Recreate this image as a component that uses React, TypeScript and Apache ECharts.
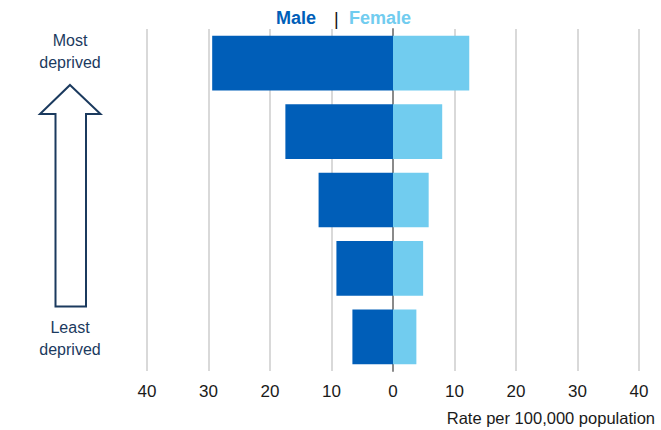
import React, { useEffect, useRef } from "react";
import * as echarts from "echarts";

// Deprivation quintiles, most deprived first (top of the chart)
const quintiles = ["Q1", "Q2", "Q3", "Q4", "Q5"];
// Rate per 100,000 population
const maleRates = [29.4, 17.5, 12.1, 9.2, 6.6];
const femaleRates = [12.4, 8.0, 5.8, 4.9, 3.8];
const axisTicks = [-40, -30, -20, -10, 0, 10, 20, 30, 40];

const MALE = "#005EB8";
const FEMALE = "#71CCEF";
const NAVY = "#1b3a5e";
const FONT = "Liberation Sans";

export default function App() {
  const ref = useRef<HTMLDivElement>(null);

  useEffect(() => {
    if (!ref.current) return;
    const chart = echarts.init(ref.current, undefined, { renderer: "svg" });
    chart.setOption({
      animation: false,
      backgroundColor: "#ffffff",
      textStyle: { fontFamily: FONT },
      grid: { left: 147, right: 22, top: 29, bottom: 59 },
      xAxis: {
        type: "value",
        min: axisTicks[0],
        max: axisTicks[axisTicks.length - 1],
        interval: 10,
        axisLine: { show: false },
        axisTick: { show: false },
        axisLabel: {
          color: "#1a1a1a",
          fontSize: 17,
          fontFamily: FONT,
          margin: 12,
          formatter: (v: number) => String(Math.abs(v)),
        },
        splitLine: { show: true, lineStyle: { color: "#d9d9d9", width: 2 } },
      },
      yAxis: {
        type: "category",
        data: quintiles,
        inverse: true,
        axisLine: { show: true, onZero: true, lineStyle: { color: "#8a8a8a", width: 2 } },
        axisTick: { show: false },
        axisLabel: { show: false },
        splitLine: { show: false },
      },
      series: [
        {
          name: "Male",
          type: "bar",
          stack: "rate",
          barWidth: "80%",
          data: maleRates.map((v) => -v),
          itemStyle: { color: MALE },
        },
        {
          name: "Female",
          type: "bar",
          stack: "rate",
          barWidth: "80%",
          data: femaleRates,
          itemStyle: { color: FEMALE },
        },
      ],
      graphic: [
        {
          type: "text",
          x: 276,
          y: 18,
          style: {
            text: "Male",
            fill: MALE,
            fontFamily: FONT,
            fontSize: 18,
            fontWeight: "bold",
            verticalAlign: "middle",
          },
        },
        {
          type: "text",
          x: 334,
          y: 19,
          style: {
            text: "|",
            fill: "#111111",
            fontFamily: FONT,
            fontSize: 18,
            verticalAlign: "middle",
          },
        },
        {
          type: "text",
          x: 349,
          y: 18,
          style: {
            text: "Female",
            fill: FEMALE,
            fontFamily: FONT,
            fontSize: 18,
            fontWeight: "bold",
            verticalAlign: "middle",
          },
        },
        {
          type: "text",
          x: 70,
          y: 51,
          style: {
            text: "Most\ndeprived",
            fill: NAVY,
            fontFamily: FONT,
            fontSize: 16,
            align: "center",
            verticalAlign: "middle",
            lineHeight: 22,
          },
        },
        {
          type: "polygon",
          shape: {
            points: [
              [70, 85],
              [100.5, 114],
              [86, 114],
              [86, 306.5],
              [55.5, 306.5],
              [55.5, 114],
              [40, 114],
            ],
          },
          style: { fill: "#ffffff", stroke: NAVY, lineWidth: 2 },
        },
        {
          type: "text",
          x: 70,
          y: 338.5,
          style: {
            text: "Least\ndeprived",
            fill: NAVY,
            fontFamily: FONT,
            fontSize: 16,
            align: "center",
            verticalAlign: "middle",
            lineHeight: 22,
          },
        },
        {
          type: "text",
          x: 655,
          y: 418,
          style: {
            text: "Rate per 100,000 population",
            fill: "#1a1a1a",
            fontFamily: FONT,
            fontSize: 16.5,
            align: "right",
            verticalAlign: "middle",
          },
        },
      ],
    });
    return () => chart.dispose();
  }, []);

  return (
    <div
      ref={ref}
      style={{ position: "fixed", left: 0, top: 0, width: 661, height: 430 }}
    />
  );
}
